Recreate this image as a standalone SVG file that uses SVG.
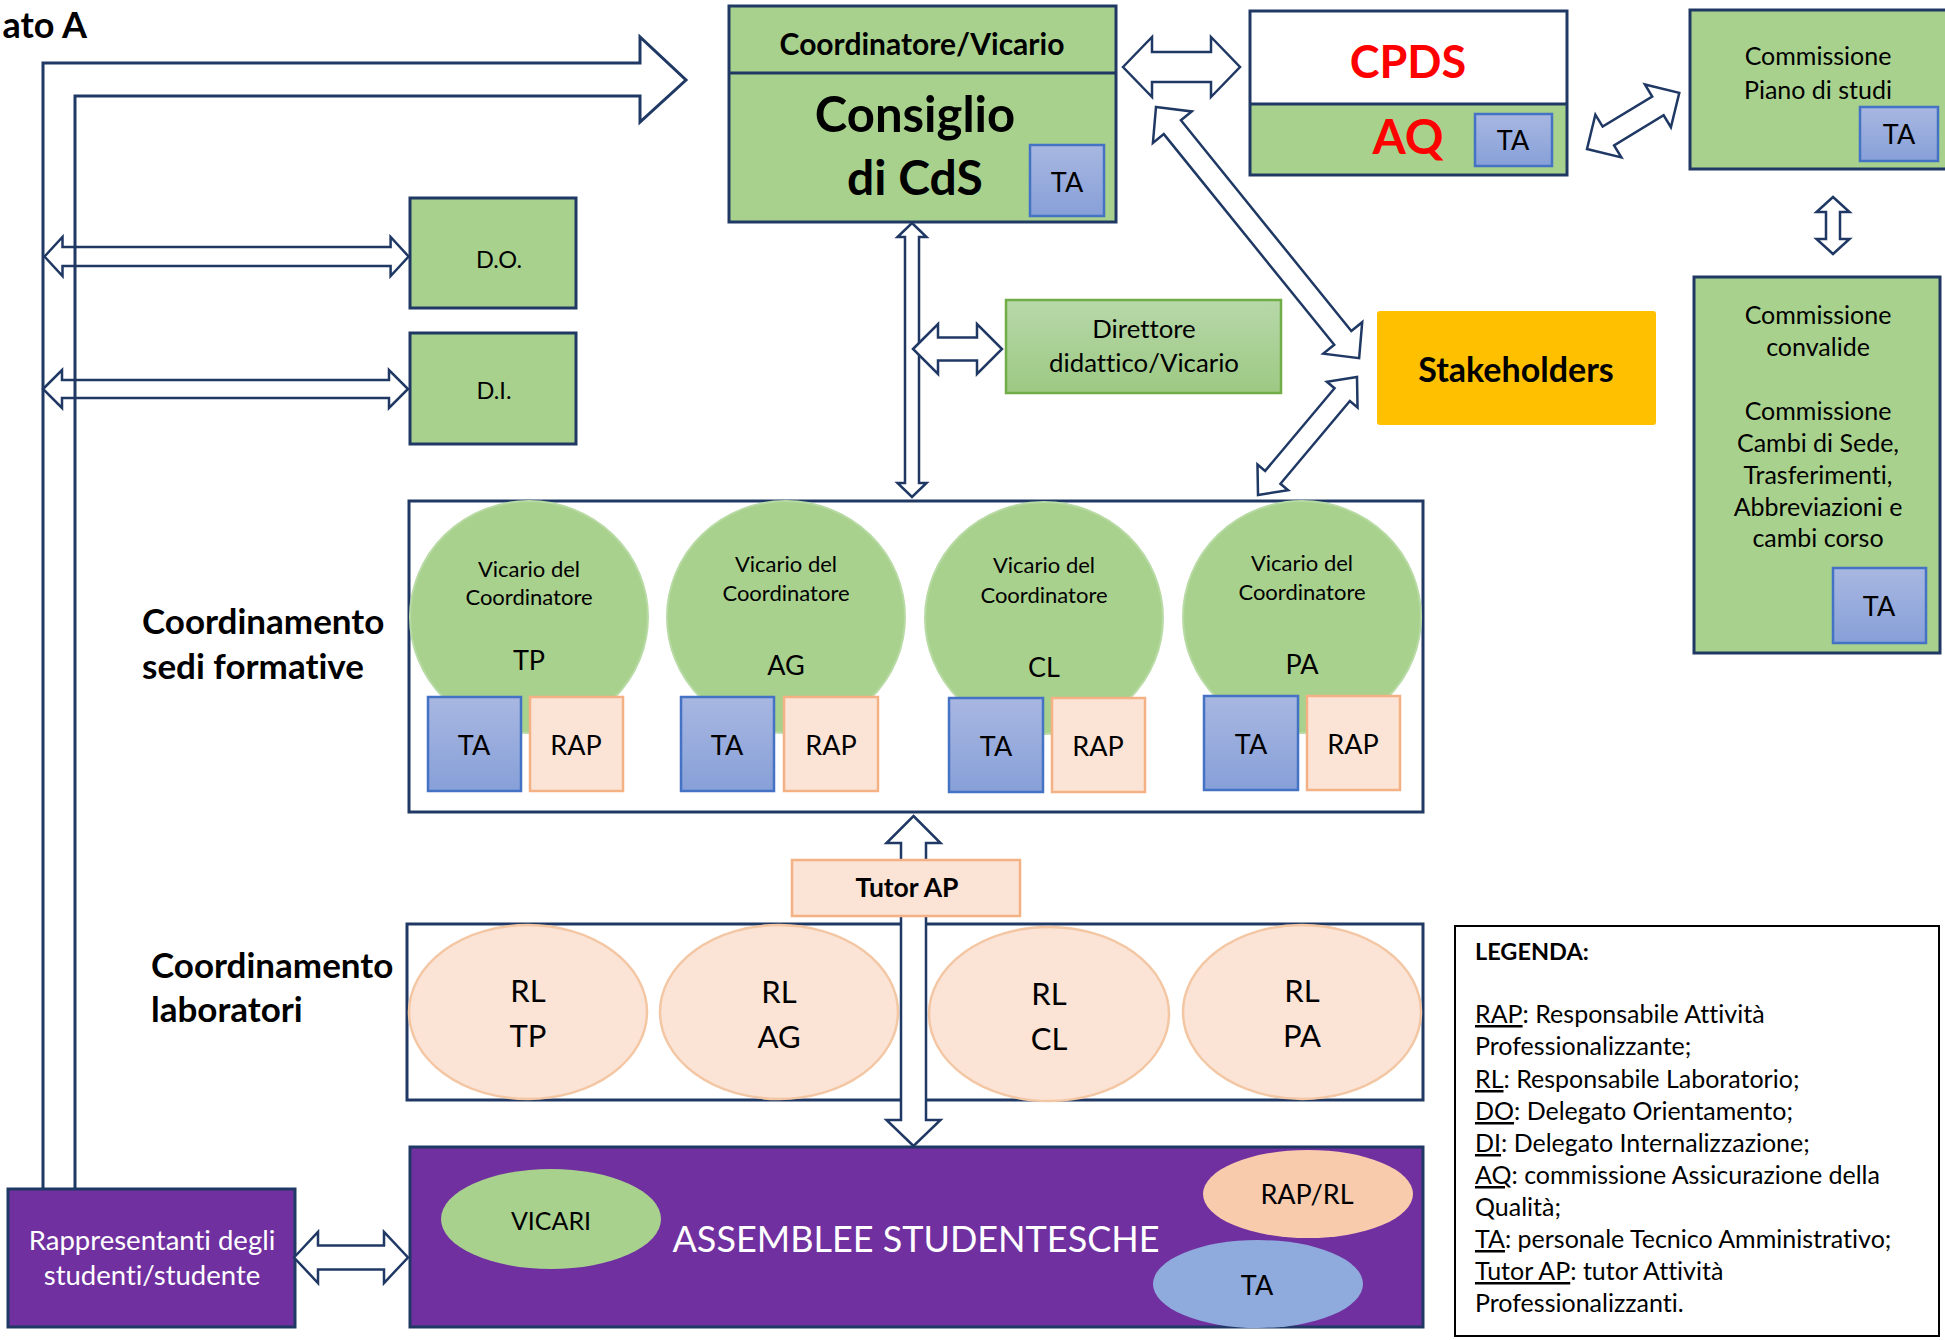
<svg xmlns="http://www.w3.org/2000/svg" width="1945" height="1340" viewBox="0 0 1945 1340">
<defs>
<linearGradient id="gBlue" x1="0" y1="0" x2="0" y2="1"><stop offset="0" stop-color="#A8B7E1"/><stop offset="1" stop-color="#87A0D8"/></linearGradient>
<linearGradient id="gGreen" x1="0" y1="0" x2="0" y2="1"><stop offset="0" stop-color="#B7D8A9"/><stop offset="1" stop-color="#9DC983"/></linearGradient>
<style>
text{font-family:Lato,"Liberation Sans",sans-serif;fill:#000;font-variant-ligatures:none;font-feature-settings:"liga" 0}
.c{text-anchor:middle}
.b{font-weight:bold}
.w{fill:#fff}
.red{fill:#FF0000}
.box{fill:#A9D18E;stroke:#1F3864;stroke-width:3}
.wbox{fill:#fff;stroke:#1F3864;stroke-width:3}
.pbox{fill:#7030A0;stroke:#1F3864;stroke-width:3}
.ta{fill:url(#gBlue);stroke:#4472C4;stroke-width:2.5}
.rap{fill:#FBE3D6;stroke:#F4B183;stroke-width:2.5}
.gc{fill:#A9D18E;stroke:#B8DAA4;stroke-width:2}
.pc{fill:#FBE3D6;stroke:#F4C7A4;stroke-width:2.5}
.arr{fill:#fff;stroke:#1F3864;stroke-width:2.5;stroke-linejoin:miter}
.line{fill:none;stroke:#1F3864;stroke-width:3}
.u{text-decoration:underline}
</style>
</defs>
<rect width="1945" height="1340" fill="#fff"/>

<text x="87" y="38" class="b" text-anchor="end" font-size="36">ato A</text>

<g id="consiglio">
<rect x="729" y="6" width="387" height="216" class="box"/>
<line x1="729" y1="73" x2="1116" y2="73" stroke="#1F3864" stroke-width="3"/>
<text x="922" y="55" class="c b" font-size="30">Coordinatore/Vicario</text>
<text x="915" y="132" class="c b" font-size="49">Consiglio</text>
<text x="915" y="195" class="c b" font-size="48">di CdS</text>
<rect x="1030" y="145" width="74" height="71" class="ta"/>
<text x="1067" y="192" class="c" font-size="27">TA</text>
</g>

<g id="cpds">
<rect x="1250" y="11" width="317" height="93" fill="#fff"/>
<rect x="1250" y="104" width="317" height="71" fill="#A9D18E"/>
<rect x="1250" y="11" width="317" height="164" fill="none" stroke="#1F3864" stroke-width="3"/>
<line x1="1250" y1="104" x2="1567" y2="104" stroke="#1F3864" stroke-width="3"/>
<text x="1408" y="78" class="c b red" font-size="45">CPDS</text>
<text x="1408" y="154" class="c b red" font-size="48">AQ</text>
<rect x="1475" y="114" width="77" height="52" class="ta"/>
<text x="1513" y="150" class="c" font-size="27">TA</text>
</g>

<g id="piano">
<rect x="1690" y="10" width="260" height="159" class="box"/>
<text x="1818" y="65" class="c" font-size="25">Commissione</text>
<text x="1818" y="99" class="c" font-size="25">Piano di studi</text>
<rect x="1860" y="107" width="78" height="54" class="ta"/>
<text x="1899" y="144" class="c" font-size="27">TA</text>
</g>

<g id="convalide">
<rect x="1694" y="277" width="246" height="376" class="box"/>
<text x="1818" y="324" class="c" font-size="25">Commissione</text>
<text x="1818" y="356" class="c" font-size="25">convalide</text>
<text x="1818" y="420" class="c" font-size="25">Commissione</text>
<text x="1818" y="452" class="c" font-size="25">Cambi di Sede,</text>
<text x="1818" y="484" class="c" font-size="25">Trasferimenti,</text>
<text x="1818" y="516" class="c" font-size="25">Abbreviazioni e</text>
<text x="1818" y="547" class="c" font-size="25">cambi corso</text>
<rect x="1833" y="568" width="93" height="75" class="ta"/>
<text x="1879" y="616" class="c" font-size="27">TA</text>
</g>

<g id="stakeholders">
<rect x="1377" y="311" width="279" height="114" rx="3" fill="#FFC000"/>
<text x="1516" y="382" class="c b" font-size="34">Stakeholders</text>
</g>

<g id="direttore">
<rect x="1006" y="300" width="275" height="93" fill="url(#gGreen)" stroke="#70AD47" stroke-width="2.5"/>
<text x="1144" y="338" class="c" font-size="25.8">Direttore</text>
<text x="1144" y="372" class="c" font-size="25.8">didattico/Vicario</text>
</g>

<g id="do">
<rect x="410" y="198" width="166" height="110" class="box"/>
<text x="499" y="268" class="c" font-size="23.5">D.O.</text>
</g>

<g id="di">
<rect x="410" y="333" width="166" height="111" class="box"/>
<text x="494" y="399" class="c" font-size="23.5">D.I.</text>
</g>

<g id="sedi">
<rect x="409" y="501" width="1014" height="311" class="wbox"/>
<ellipse cx="529" cy="617" rx="119" ry="116" class="gc"/>
<ellipse cx="786" cy="617" rx="119" ry="116" class="gc"/>
<ellipse cx="1044" cy="618" rx="119" ry="116" class="gc"/>
<ellipse cx="1302" cy="617" rx="119" ry="116" class="gc"/>
<text x="529" y="577" class="c" font-size="22">Vicario del</text>
<text x="529" y="605" class="c" font-size="22">Coordinatore</text>
<text x="529" y="670" class="c" font-size="27">TP</text>
<text x="786" y="572" class="c" font-size="22">Vicario del</text>
<text x="786" y="601" class="c" font-size="22">Coordinatore</text>
<text x="786" y="675" class="c" font-size="27">AG</text>
<text x="1044" y="573" class="c" font-size="22">Vicario del</text>
<text x="1044" y="603" class="c" font-size="22">Coordinatore</text>
<text x="1044" y="677" class="c" font-size="27">CL</text>
<text x="1302" y="571" class="c" font-size="22">Vicario del</text>
<text x="1302" y="600" class="c" font-size="22">Coordinatore</text>
<text x="1302" y="674" class="c" font-size="27">PA</text>
<rect x="428" y="697" width="93" height="94" class="ta"/>
<rect x="530" y="697" width="93" height="94" class="rap"/>
<rect x="681" y="697" width="93" height="94" class="ta"/>
<rect x="784" y="697" width="94" height="94" class="rap"/>
<rect x="949" y="698" width="94" height="94" class="ta"/>
<rect x="1052" y="698" width="93" height="94" class="rap"/>
<rect x="1204" y="696" width="94" height="94" class="ta"/>
<rect x="1307" y="696" width="93" height="94" class="rap"/>
<text x="474" y="755" class="c" font-size="27">TA</text>
<text x="576" y="755" class="c" font-size="27">RAP</text>
<text x="727" y="755" class="c" font-size="27">TA</text>
<text x="831" y="755" class="c" font-size="27">RAP</text>
<text x="996" y="756" class="c" font-size="27">TA</text>
<text x="1098" y="756" class="c" font-size="27">RAP</text>
<text x="1251" y="754" class="c" font-size="27">TA</text>
<text x="1353" y="754" class="c" font-size="27">RAP</text>
</g>
<text x="142" y="634" class="b" font-size="35">Coordinamento</text>
<text x="142" y="679" class="b" font-size="35">sedi formative</text>

<g id="laboratori">
<rect x="407" y="924" width="1016" height="176" class="wbox"/>
<ellipse cx="528" cy="1012" rx="119" ry="87" class="pc"/>
<ellipse cx="779" cy="1012" rx="119" ry="87" class="pc"/>
<ellipse cx="1049" cy="1014" rx="120" ry="87" class="pc"/>
<ellipse cx="1302" cy="1012" rx="119" ry="87" class="pc"/>
<text x="528" y="1002" class="c" font-size="31">RL</text>
<text x="528" y="1047" class="c" font-size="31">TP</text>
<text x="779" y="1003" class="c" font-size="31">RL</text>
<text x="779" y="1048" class="c" font-size="31">AG</text>
<text x="1049" y="1005" class="c" font-size="31">RL</text>
<text x="1049" y="1050" class="c" font-size="31">CL</text>
<text x="1302" y="1002" class="c" font-size="31">RL</text>
<text x="1302" y="1047" class="c" font-size="31">PA</text>
</g>
<text x="151" y="978" class="b" font-size="35">Coordinamento</text>
<text x="151" y="1022" class="b" font-size="35">laboratori</text>

<g id="assemblee">
<rect x="410" y="1147" width="1013" height="180" class="pbox"/>
<ellipse cx="551" cy="1219" rx="110" ry="50" fill="#A9D18E"/>
<text x="551" y="1230" class="c" font-size="25">VICARI</text>
<text x="916" y="1252" class="c w" font-size="36">ASSEMBLEE STUDENTESCHE</text>
<ellipse cx="1308" cy="1194" rx="105" ry="44" fill="#F8CBAD"/>
<text x="1307" y="1204" class="c" font-size="27">RAP/RL</text>
<ellipse cx="1258" cy="1284" rx="105" ry="44" fill="#8FAADC"/>
<text x="1257" y="1295" class="c" font-size="27">TA</text>
</g>

<g id="rappresentanti">
<rect x="8" y="1189" width="287" height="138" class="pbox"/>
<text x="152" y="1250" class="c w" font-size="27.5">Rappresentanti degli</text>
<text x="152" y="1285" class="c w" font-size="27.5">studenti/studente</text>
</g>

<g id="legenda">
<rect x="1455" y="926" width="484" height="410" fill="#fff" stroke="#000" stroke-width="2"/>
<text x="1475" y="960" class="b" font-size="23.5">LEGENDA:</text>
<text x="1475" y="1023" font-size="25"><tspan class="u">RAP</tspan>: Responsabile Attività</text>
<text x="1475" y="1055" font-size="25">Professionalizzante;</text>
<text x="1475" y="1088" font-size="25"><tspan class="u">RL</tspan>: Responsabile Laboratorio;</text>
<text x="1475" y="1120" font-size="25"><tspan class="u">DO</tspan>: Delegato Orientamento;</text>
<text x="1475" y="1152" font-size="25"><tspan class="u">DI</tspan>: Delegato Internalizzazione;</text>
<text x="1475" y="1184" font-size="25"><tspan class="u">AQ</tspan>: commissione Assicurazione della</text>
<text x="1475" y="1216" font-size="25">Qualità;</text>
<text x="1475" y="1248" font-size="25"><tspan class="u">TA</tspan>: personale Tecnico Amministrativo;</text>
<text x="1475" y="1280" font-size="25"><tspan class="u">Tutor AP</tspan>: tutor Attività</text>
<text x="1475" y="1312" font-size="25">Professionalizzanti.</text>
</g>

<g id="connectors">
<path class="arr" d="M1123,67 L1152,37 L1152,52 L1211,52 L1211,37 L1240,67 L1211,97 L1211,82 L1152,82 L1152,97 Z"/>
<path class="arr" d="M912,223 L926.5,237 L919,237 L919,483 L926.5,483 L912,497 L897.5,483 L905,483 L905,237 L897.5,237 Z"/>
<path class="arr" d="M913,349 L938,324 L938,337.5 L977,337.5 L977,324 L1002,349 L977,374 L977,360.5 L938,360.5 L938,374 Z"/>
<path class="arr" transform="translate(1156,107) rotate(51.03)" d="M0,0 L26,-25 L26,-11 L297,-11 L297,-25 L323,0 L297,25 L297,11 L26,11 L26,25 Z"/>
<path class="arr" transform="translate(1357,377) rotate(130)" d="M0,0 L23,-20 L23,-10 L131,-10 L131,-20 L154,0 L131,20 L131,10 L23,10 L23,20 Z"/>
<path class="arr" transform="translate(1587,149) rotate(-31.3)" d="M0,0 L25,-25 L25,-11 L83,-11 L83,-25 L108,0 L83,25 L83,11 L25,11 L25,25 Z"/>
<path class="arr" d="M1833,197 L1849.5,212 L1840,212 L1840,239 L1849.5,239 L1833,254 L1816.5,239 L1826,239 L1826,212 L1816.5,212 Z"/>
<path class="arr" d="M44.5,256.5 L62.5,237 L62.5,247 L390.6,247 L390.6,237 L408.6,256.5 L390.6,276 L390.6,266 L62.5,266 L62.5,276 Z"/>
<path class="arr" d="M43,389 L62,370 L62,380 L389,380 L389,370 L408,389 L389,408 L389,398 L62,398 L62,408 Z"/>
<path class="arr" d="M913.5,816 L940.5,843 L926,843 L926,1120 L940.5,1120 L913.5,1146 L886.5,1120 L901,1120 L901,843 L886.5,843 Z"/>
<path class="arr" d="M294,1257.5 L318,1232 L318,1245.5 L384,1245.5 L384,1232 L408,1257.5 L384,1283 L384,1269.5 L318,1269.5 L318,1283 Z"/>
<path class="line" d="M43,1189 L43,63 L640,63 L640,37 L686,80 L640,122 L640,96 L75,96 L75,1189"/>
</g>

<g id="tutor">
<rect x="792" y="860" width="228" height="56" class="rap"/>
<text x="907" y="897" class="c b" font-size="26.5">Tutor AP</text>
</g>
</svg>
